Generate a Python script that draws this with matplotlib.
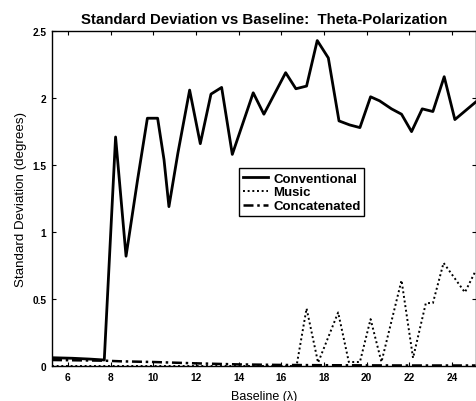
import matplotlib
matplotlib.use("Agg")
import matplotlib.pyplot as plt

plt.rcParams['font.family'] = ['Liberation Sans', 'DejaVu Sans']

# Data
conv_x = [5.25, 6.2, 7.0, 7.7, 8.23, 8.72, 9.26, 9.72, 10.2, 10.5, 10.73, 11.15,
          11.7, 12.2, 12.7, 13.2, 13.7, 14.68, 15.18, 16.2, 16.68, 17.18, 17.68,
          18.2, 18.7, 19.2, 19.68, 20.18, 20.6, 21.16, 21.63, 22.1, 22.6, 23.1,
          23.63, 24.13, 25.1]
conv_y = [0.062, 0.058, 0.052, 0.045, 1.71, 0.82, 1.39, 1.85, 1.85, 1.54, 1.19, 1.59,
          2.06, 1.66, 2.03, 2.08, 1.58, 2.04, 1.88, 2.19, 2.07, 2.09, 2.43,
          2.30, 1.83, 1.80, 1.78, 2.01, 1.98, 1.92, 1.88, 1.75, 1.92, 1.90,
          2.16, 1.84, 1.97]

music_x = [5.25, 16.71, 17.18, 17.72, 18.66, 19.16, 19.68, 20.18, 20.69, 21.63,
           22.17, 22.77, 23.1, 23.6, 24.6, 25.1]
music_y = [0.0, 0.0, 0.43, 0.025, 0.40, 0.03, 0.03, 0.35, 0.03, 0.64,
           0.06, 0.47, 0.47, 0.77, 0.55, 0.71]

conc_x = [5.25, 7.7, 8.5, 10.0, 12.0, 14.0, 16.0, 18.0, 20.0, 22.0, 25.1]
conc_y = [0.045, 0.04, 0.035, 0.03, 0.02, 0.012, 0.008, 0.006, 0.005, 0.004, 0.004]

x_ticks = [6, 8, 10, 12, 14, 16, 18, 20, 22, 24]
y_ticks = [0, 0.5, 1, 1.5, 2, 2.5]
y_ticklabels = ['0', '0.5', '1', '1.5', '2', '2.5']

fig = plt.figure(figsize=(4.77, 4.02), dpi=100)
ax = fig.add_axes([0.109, 0.087, 0.888, 0.833])

ax.plot(conv_x, conv_y, color='black', lw=2.0, linestyle='-', label='Conventional')
ax.plot(music_x, music_y, color='black', lw=1.4, linestyle=(0, (1, 1.4)), label='Music')
ax.plot(conc_x, conc_y, color='black', lw=1.8, linestyle=(0, (4, 1.5, 1, 1.5)), label='Concatenated')

ax.set_xlim(5.25, 25.1)
ax.set_ylim(0, 2.5)
ax.set_xticks(x_ticks)
ax.set_yticks(y_ticks)
ax.set_yticklabels(y_ticklabels)
ax.tick_params(direction='in', top=True, right=True, length=3, width=0.8,
               labelsize=7.3, pad=4)
for lab in ax.get_xticklabels() + ax.get_yticklabels():
    lab.set_fontweight('bold')
for s in ax.spines.values():
    s.set_linewidth(1.0)

ax.set_title('Standard Deviation vs Baseline:  Theta-Polarization',
             fontsize=10.8, fontweight='bold', pad=6)
ax.set_xlabel('Baseline (\u03bb)', fontsize=9, labelpad=6)
ax.set_ylabel('Standard Deviation (degrees)', fontsize=9.6, labelpad=4)

leg = ax.legend(loc='upper left', bbox_to_anchor=(0.441, 0.59), frameon=True,
                fancybox=False, edgecolor='black', framealpha=1,
                prop={'size': 9.5, 'weight': 'bold'}, handlelength=1.9,
                handletextpad=0.4, borderpad=0.3, labelspacing=0.12,
                borderaxespad=0)
leg.get_frame().set_linewidth(1.0)

fig.savefig('out.png', dpi=100)
